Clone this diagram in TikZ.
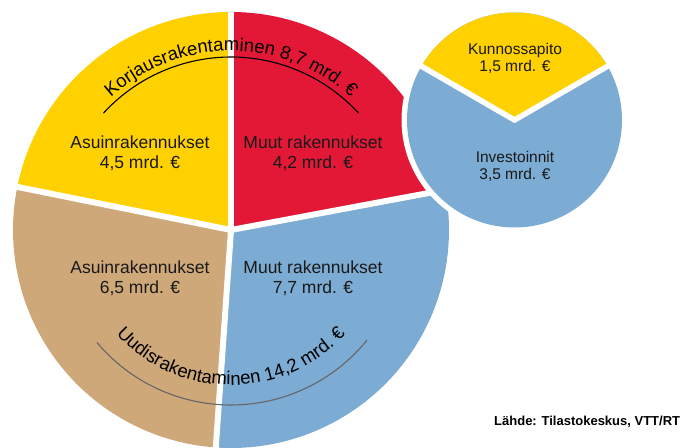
\documentclass[tikz,border=0pt]{standalone}
\usepackage{fontspec}
\setmainfont{Liberation Sans}
\usetikzlibrary{decorations.text}
\definecolor{cyel}{RGB}{255,209,0}
\definecolor{cred}{RGB}{226,24,54}
\definecolor{ctan}{RGB}{207,168,121}
\definecolor{cblue}{RGB}{124,171,211}
\newcommand\curvefont{\fontsize{18.5}{20}\selectfont}
\begin{document}
\begin{tikzpicture}[x=1pt,y=1pt,
  lbl/.style={font=\fontsize{17.5}{20}\selectfont, align=center, text=black!90, inner sep=0pt},
  slbl/.style={font=\fontsize{15.5}{17}\selectfont, align=center, text=black!90, inner sep=0pt},
  gap/.style={white, line width=6pt, line cap=round},
  sgap/.style={white, line width=5.5pt, line cap=round}]
\useasboundingbox (0,0) rectangle (685,447);
\coordinate (C) at (231,217);
% big pie
\fill[cyel] (C) -- ++(90:218) arc[start angle=90,end angle=168.6,radius=218] -- cycle;
\fill[ctan] (C) -- ++(168.6:218) arc[start angle=168.6,end angle=266,radius=218] -- cycle;
\fill[cblue] (C) -- ++(266:218) arc[start angle=266,end angle=370.6,radius=218] -- cycle;
\fill[cred] (C) -- ++(10.6:218) arc[start angle=10.6,end angle=90,radius=218] -- cycle;
\foreach \a in {90,168.6,266,10.6} \draw[gap] (C) -- ++(\a:224);
% small pie
\coordinate (S) at (514.5,327);
\fill[white] (S) circle[radius=113];
\fill[cblue] (S) circle[radius=107.5];
\fill[cyel] (S) -- ++(30:107.5) arc[start angle=30,end angle=150,radius=107.5] -- cycle;
\foreach \a in {30,150} \draw[sgap] (S) -- ++(\a:112);
% arcs
\draw[black, line width=1.1pt] (C) ++(137.5:173) arc[start angle=137.5,end angle=42.5,radius=173];
\draw[black!60, line width=1.1pt] (C) ++(220:175) arc[start angle=220,end angle=321,radius=175];
% curved texts
\path[shift={(231,217)}, decorate, decoration={text along path, text={|\curvefont|Korjausrakentaminen 8,7 mrd. €}, text align=center}]
  (150:179) arc[start angle=150,end angle=30,radius=179];
\path[shift={(231,217)}, decorate, decoration={text along path, text={|\curvefont|Uudisrakentaminen 14,2 mrd. €}, text align=center}]
  (200:155) arc[start angle=200,end angle=340,radius=155];
% labels
\node[lbl] (ay) at (140,294) {Asuinrakennukset\\4,5 mrd. €};
\node[lbl] (my) at (313,294) {Muut rakennukset\\4,2 mrd. €};
\node[lbl] (au) at (140,169) {Asuinrakennukset\\6,5 mrd. €};
\node[lbl] (mu) at (313,169) {Muut rakennukset\\7,7 mrd. €};
\node[slbl] (ku) at (515,388.5) {Kunnossapito\\1,5 mrd. €};
\node[slbl] (in) at (515,280.5) {Investoinnit\\3,5 mrd. €};
\node[anchor=west, inner sep=0pt, font=\bfseries\fontsize{13}{15}\selectfont] (src) at (494,25) {Lähde: Tilastokeskus, VTT/RT};
\end{tikzpicture}
\end{document}
